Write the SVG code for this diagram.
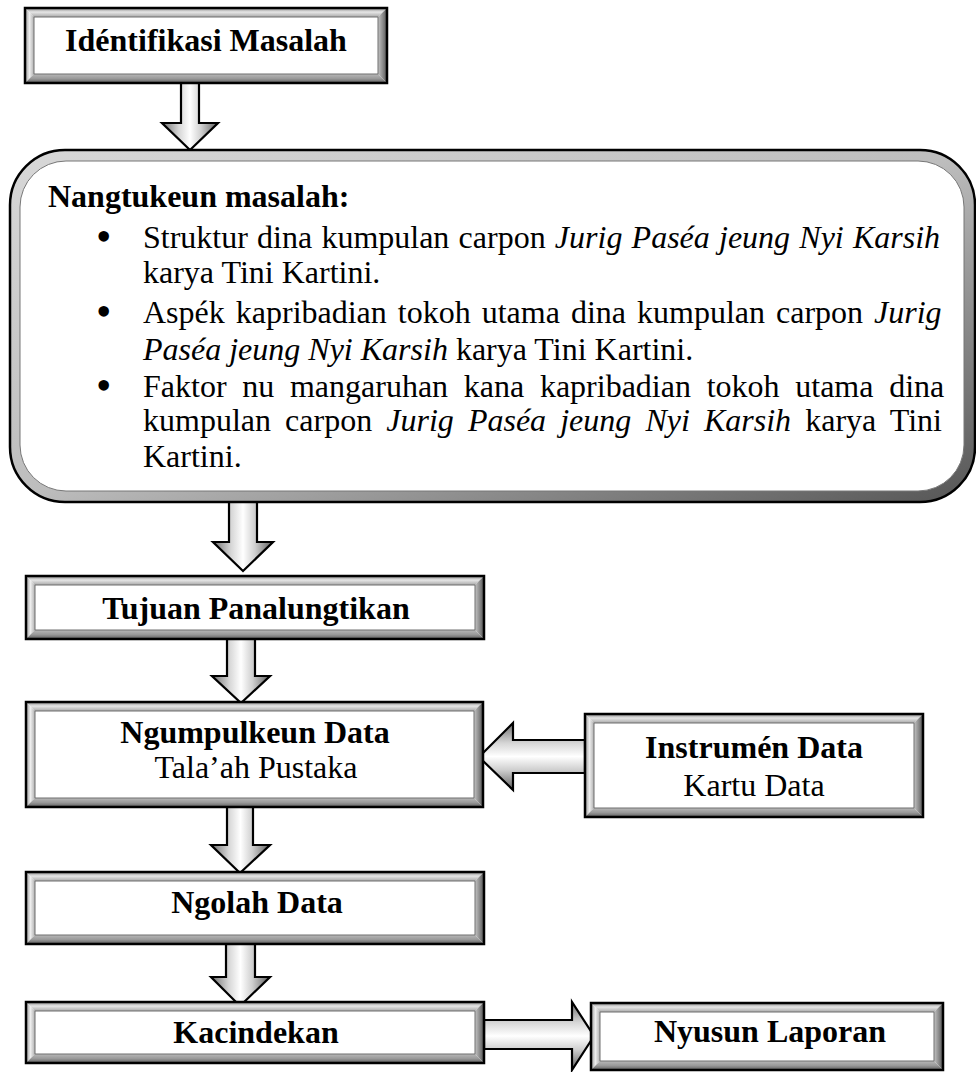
<svg xmlns="http://www.w3.org/2000/svg" width="976" height="1072" viewBox="0 0 976 1072">
<style>
  text { font-family: "Liberation Serif", "Times New Roman", serif; font-size: 32px; fill: #000; }
  .b { font-weight: bold; }
  .c { text-anchor: middle; }
  .i { font-style: italic; }
  .bul { font-size: 44px; }
  .frame { fill: none; stroke: #000; stroke-width: 2.5; }
  .bt { fill: url(#gTop); }
  .bl { fill: url(#gLeft); }
  .br { fill: url(#gRight); }
  .bb { fill: url(#gBot); }
  .inner { fill: #fff; stroke: #6e6e6e; stroke-width: 1; }
  .arrV { fill: url(#gArrV); stroke: #000; stroke-width: 2.2; stroke-linejoin: miter; }
  .arrH { fill: url(#gArrH); stroke: #000; stroke-width: 2.2; stroke-linejoin: miter; }
</style>
<defs>
  <linearGradient id="gTop" x1="0" y1="0" x2="0" y2="1">
    <stop offset="0" stop-color="#8a8a8a"/>
    <stop offset="0.45" stop-color="#e6e6e6"/>
    <stop offset="1" stop-color="#a8a8a8"/>
  </linearGradient>
  <linearGradient id="gBot" x1="0" y1="0" x2="0" y2="1">
    <stop offset="0" stop-color="#b8b8b8"/>
    <stop offset="0.5" stop-color="#9a9a9a"/>
    <stop offset="1" stop-color="#5e5e5e"/>
  </linearGradient>
  <linearGradient id="gLeft" x1="0" y1="0" x2="1" y2="0">
    <stop offset="0" stop-color="#9a9a9a"/>
    <stop offset="0.5" stop-color="#ededed"/>
    <stop offset="1" stop-color="#b0b0b0"/>
  </linearGradient>
  <linearGradient id="gRight" x1="0" y1="0" x2="1" y2="0">
    <stop offset="0" stop-color="#c4c4c4"/>
    <stop offset="0.5" stop-color="#8e8e8e"/>
    <stop offset="1" stop-color="#555"/>
  </linearGradient>
  <linearGradient id="gArrV" x1="0" y1="0" x2="1" y2="0">
    <stop offset="0" stop-color="#6e6e6e"/>
    <stop offset="0.3" stop-color="#d6d6d6"/>
    <stop offset="0.5" stop-color="#ffffff"/>
    <stop offset="0.7" stop-color="#cfcfcf"/>
    <stop offset="1" stop-color="#5e5e5e"/>
  </linearGradient>
  <linearGradient id="gArrH" x1="0" y1="0" x2="0" y2="1">
    <stop offset="0" stop-color="#6e6e6e"/>
    <stop offset="0.3" stop-color="#d6d6d6"/>
    <stop offset="0.5" stop-color="#ffffff"/>
    <stop offset="0.7" stop-color="#cfcfcf"/>
    <stop offset="1" stop-color="#5e5e5e"/>
  </linearGradient>
  <linearGradient id="gRound" x1="0" y1="0" x2="1" y2="1">
    <stop offset="0" stop-color="#d8d8d8"/>
    <stop offset="0.5" stop-color="#bdbdbd"/>
    <stop offset="1" stop-color="#555"/>
  </linearGradient>
</defs>

<g id="connectors">
  <path id="arrow-1" class="arrV" d="M181,83 L199,83 L199,123 L218,123 L190,150 L162,123 L181,123 Z"/>
  <path id="arrow-2" class="arrV" d="M229,502 L257,502 L257,542 L273,542 L243,571 L213,542 L229,542 Z"/>
  <path id="arrow-3" class="arrV" d="M227,639 L255,639 L255,676 L270,676 L241,703 L212,676 L227,676 Z"/>
  <path id="arrow-4" class="arrV" d="M227,807 L253,807 L253,845 L270,845 L240,873 L211,845 L227,845 Z"/>
  <path id="arrow-5" class="arrV" d="M226,944 L255,944 L255,977 L270,977 L240,1006 L211,977 L226,977 Z"/>
  <path id="arrow-instrumen" class="arrH" d="M585,740 L585,773 L513,773 L513,790 L479,757 L513,723 L513,740 Z"/>
  <path id="arrow-laporan" class="arrH" d="M484,1020 L572,1020 L572,1002 L594,1036 L572,1070 L572,1049 L484,1049 Z"/>
</g>

<g id="node-identifikasi">
  <polygon class="bt" points="25,8 387,8 378,17 34,17"/>
  <polygon class="bl" points="25,8 34,17 34,74 25,83"/>
  <polygon class="br" points="387,8 387,83 378,74 378,17"/>
  <polygon class="bb" points="25,83 34,74 378,74 387,83"/>
  <rect class="inner" x="34" y="17" width="344" height="57"/>
  <rect class="frame" x="25" y="8" width="362" height="75"/>
  <text class="b c" x="206" y="51">Idéntifikasi Masalah</text>
</g>

<g id="node-nangtukeun">
  <rect x="10" y="150" width="965" height="352" rx="55" ry="55" fill="url(#gRound)" stroke="#000" stroke-width="2.5"/>
  <rect x="20" y="161" width="944" height="330" rx="46" ry="46" fill="#fff" stroke="#777" stroke-width="1"/>
  <text class="b" x="48" y="207">Nangtukeun masalah:</text>
  <text class="bul" x="96" y="251">•</text>
  <text x="143" y="248" style="word-spacing:1.2px">Struktur dina kumpulan carpon <tspan class="i">Jurig Paséa jeung Nyi Karsih</tspan></text>
  <text x="143" y="283">karya Tini Kartini.</text>
  <text class="bul" x="96" y="326">•</text>
  <text x="143" y="323" style="word-spacing:3px">Aspék kapribadian tokoh utama dina kumpulan carpon <tspan class="i">Jurig</tspan></text>
  <text x="143" y="360"><tspan class="i">Paséa jeung Nyi Karsih</tspan> karya Tini Kartini.</text>
  <text class="bul" x="96" y="400">•</text>
  <text x="143" y="397" style="word-spacing:7.7px">Faktor nu mangaruhan kana kapribadian tokoh utama dina</text>
  <text x="143" y="431" style="word-spacing:6.1px">kumpulan carpon <tspan class="i">Jurig Paséa jeung Nyi Karsih</tspan> karya Tini</text>
  <text x="143" y="467">Kartini.</text>
</g>

<g id="node-tujuan">
  <polygon class="bt" points="26,576 484,576 475,585 35,585"/>
  <polygon class="bl" points="26,576 35,585 35,630 26,639"/>
  <polygon class="br" points="484,576 484,639 475,630 475,585"/>
  <polygon class="bb" points="26,639 35,630 475,630 484,639"/>
  <rect class="inner" x="35" y="585" width="440" height="45"/>
  <rect class="frame" x="26" y="576" width="458" height="63"/>
  <text class="b c" x="256" y="619">Tujuan Panalungtikan</text>
</g>

<g id="node-ngumpulkeun">
  <polygon class="bt" points="26,702 483,702 474,711 35,711"/>
  <polygon class="bl" points="26,702 35,711 35,798 26,807"/>
  <polygon class="br" points="483,702 483,807 474,798 474,711"/>
  <polygon class="bb" points="26,807 35,798 474,798 483,807"/>
  <rect class="inner" x="35" y="711" width="439" height="87"/>
  <rect class="frame" x="26" y="702" width="457" height="105"/>
  <text class="b c" x="255" y="743">Ngumpulkeun Data</text>
  <text class="c" x="256" y="778">Tala’ah Pustaka</text>
</g>

<g id="node-instrumen">
  <polygon class="bt" points="585,714 923,714 914,723 594,723"/>
  <polygon class="bl" points="585,714 594,723 594,808 585,817"/>
  <polygon class="br" points="923,714 923,817 914,808 914,723"/>
  <polygon class="bb" points="585,817 594,808 914,808 923,817"/>
  <rect class="inner" x="594" y="723" width="320" height="85"/>
  <rect class="frame" x="585" y="714" width="338" height="103"/>
  <text class="b c" x="754" y="758">Instrumén Data</text>
  <text class="c" x="754" y="796">Kartu Data</text>
</g>

<g id="node-ngolah">
  <polygon class="bt" points="26,872 484,872 475,881 35,881"/>
  <polygon class="bl" points="26,872 35,881 35,935 26,944"/>
  <polygon class="br" points="484,872 484,944 475,935 475,881"/>
  <polygon class="bb" points="26,944 35,935 475,935 484,944"/>
  <rect class="inner" x="35" y="881" width="440" height="54"/>
  <rect class="frame" x="26" y="872" width="458" height="72"/>
  <text class="b c" x="257" y="913">Ngolah Data</text>
</g>

<g id="node-kacindekan">
  <polygon class="bt" points="26,1002 484,1002 475,1011 35,1011"/>
  <polygon class="bl" points="26,1002 35,1011 35,1054 26,1063"/>
  <polygon class="br" points="484,1002 484,1063 475,1054 475,1011"/>
  <polygon class="bb" points="26,1063 35,1054 475,1054 484,1063"/>
  <rect class="inner" x="35" y="1011" width="440" height="43"/>
  <rect class="frame" x="26" y="1002" width="458" height="61"/>
  <text class="b c" x="256" y="1043">Kacindekan</text>
</g>

<g id="node-nyusun">
  <polygon class="bt" points="591,1003 943,1003 934,1012 600,1012"/>
  <polygon class="bl" points="591,1003 600,1012 600,1061 591,1070"/>
  <polygon class="br" points="943,1003 943,1070 934,1061 934,1012"/>
  <polygon class="bb" points="591,1070 600,1061 934,1061 943,1070"/>
  <rect class="inner" x="600" y="1012" width="334" height="49"/>
  <rect class="frame" x="591" y="1003" width="352" height="67"/>
  <text class="b c" x="770" y="1042">Nyusun Laporan</text>
</g>
</svg>
